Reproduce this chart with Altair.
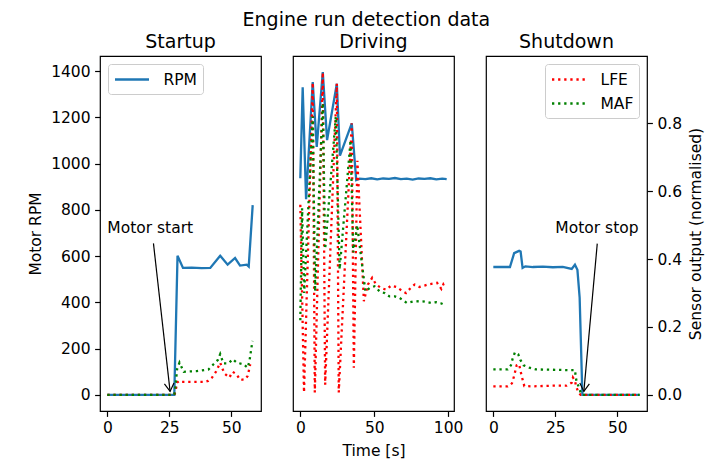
import altair as alt
import pandas as pd

FONT = "DejaVu Sans"
BLUE = "#1f77b4"
RED = "#ff0000"
GREEN = "#008000"
DASH = [2.3, 3.8]
LW = 2.3
FS = 15.5
TFS = 19
RPM_DOM = [-69.8, 1465.8]
SEN_DOM = [-0.0476, 0.9986]
SHORT_DOM = [-2.95, 61.95]
LONG_DOM = [-4.95, 103.95]

# ---------------- Startup ----------------
st_rpm_t = [0, 27.0, 28.3, 30.5, 34, 38, 41.5, 45.5, 48.5, 51.5, 53.5, 56.2, 57.0, 58.6]
st_rpm = [0, 0, 602, 549, 550, 548, 549, 602, 563, 592, 559, 563, 555, 821]
st_lfe_t = [0, 27.0, 27.5, 28.1, 29.0, 30.0, 39.0, 40.6, 42.2, 43.8, 45.5, 46.5, 47.5,
            49.2, 50.5, 52.0, 53.6, 55.6, 56.6, 57.6]
st_lfe = [0, 0, 0.01, 0.036, 0.041, 0.038, 0.038, 0.041, 0.051, 0.068, 0.095, 0.075, 0.061,
          0.051, 0.068, 0.061, 0.044, 0.046, 0.056, 0.09]
st_maf_t = [0, 27.0, 27.5, 28.1, 29.1, 30.8, 36.0, 40.8, 42.8, 44.6, 45.5, 46.8, 48.9,
            50.5, 52.2, 54.9, 56.6, 57.3, 58.0, 58.5]
st_maf = [0, 0, 0.026, 0.075, 0.095, 0.068, 0.07, 0.075, 0.09, 0.103, 0.12, 0.093, 0.093,
          0.105, 0.095, 0.09, 0.08, 0.1, 0.134, 0.159]

# ---------------- Driving ----------------
dr_rpm_t = [0, 1.6, 3.9, 8.4, 11.1, 15.2, 18.1, 24.7, 26.8, 34.8, 37.8, 40, 44, 48, 52, 56,
            60, 64, 68, 72, 76, 80, 84, 88, 92, 96, 99]
dr_rpm = [937, 1331, 846, 1353, 1073, 1396, 1102, 1346, 1035, 1174, 929, 935, 933, 937, 932,
          936, 934, 938, 933, 935, 931, 936, 934, 937, 932, 935, 933]
dr_lfe_t = [0, 2.5, 8.4, 9.8, 15.2, 16.8, 24.7, 26.0, 34.8, 36.2, 38.6, 43.0, 45.7, 48.6,
            51.3, 54.7, 58.0, 61.5, 65.0, 69.4, 71.5, 74.0, 77.3, 80.5, 84.0, 87.0, 89.8,
            92.5, 95.4, 97.0, 99.0]
dr_lfe = [0.56, 0.007, 0.92, 0.007, 0.95, 0.03, 0.917, 0.007, 0.80, 0.08, 0.69, 0.276, 0.325,
          0.345, 0.325, 0.315, 0.31, 0.322, 0.318, 0.305, 0.30, 0.312, 0.325, 0.318, 0.322,
          0.326, 0.328, 0.33, 0.312, 0.328, 0.33]
dr_maf_t = [0, 1.2, 2.6, 8.4, 10.0, 15.2, 16.8, 24.0, 26.6, 34.0, 35.8, 38.5, 41.0, 44.0,
            47.0, 50.2, 53.6, 57.0, 60.3, 64.0, 67.0, 72.0, 76.0, 80.6, 84.0, 88.5, 92.0,
            95.0, 97.0]
dr_maf = [0.22, 0.55, 0.30, 0.82, 0.305, 0.86, 0.43, 0.82, 0.37, 0.75, 0.42, 0.50, 0.41,
          0.305, 0.315, 0.32, 0.305, 0.30, 0.29, 0.29, 0.286, 0.271, 0.275, 0.276, 0.275,
          0.271, 0.273, 0.27, 0.266]

# ---------------- Shutdown ----------------
sh_rpm_t = [0, 6.7, 8.4, 10.4, 11.0, 11.8, 12.9, 16, 20, 24, 28, 31.6, 32.9, 33.9, 34.8,
            35.9, 59]
sh_rpm = [553, 553, 613, 623, 620, 549, 556, 553, 555, 552, 554, 545, 563, 541, 420, 0, 0]
sh_lfe_t = [0, 5.8, 7.5, 8.4, 9.4, 10.4, 11.4, 12.5, 15.4, 24.0, 29.5, 31.6, 32.1, 32.9,
            33.5, 34.5, 35.2, 59]
sh_lfe = [0.025, 0.025, 0.034, 0.056, 0.087, 0.09, 0.056, 0.026, 0.025, 0.027, 0.027, 0.036,
          0.051, 0.041, 0.022, 0.005, 0, 0]
sh_maf_t = [0, 5.8, 7.1, 7.8, 8.7, 10.0, 10.9, 12.2, 14.5, 17.1, 23.8, 29.9, 32.9, 33.2,
            33.5, 34.3, 35.2, 36.0, 59]
sh_maf = [0.075, 0.075, 0.087, 0.107, 0.125, 0.12, 0.103, 0.087, 0.08, 0.075, 0.074, 0.073,
          0.073, 0.056, 0.041, 0.026, 0.007, 0, 0]

# annotations: label, text position, arrow tail, arrow tip, head angle
ann_start = dict(label="Motor start", tx=0.0, ty=722, x0=18.6, y0=655, x1=25.3, y1=15, ang=353.6)
ann_stop = dict(label="Motor stop", tx=25.0, ty=722, x0=41.9, y0=654, x1=36.5, y1=15, ang=5.2)

W, H = 161, 355
ARROW = "M-0.6,-1L0,0L0.6,-1"
LEG_LINE = "M-1,0L3,0"


def legend(orient, dash=None):
    kw = dict(orient=orient, title=None, offset=8, symbolType=LEG_LINE, symbolSize=289,
              symbolStrokeWidth=LW, labelOffset=30, rowPadding=5, padding=5.5,
              fillColor="white", strokeColor="#cccccc", cornerRadius=3,
              labelFontSize=FS, labelFont=FONT, labelColor="black")
    if dash:
        kw["symbolDash"] = dash
    return alt.Legend(**kw)


def panel(title, xdom, xticks, xtitle, rpm_t, rpm, lfe_t, lfe, maf_t, maf,
          left_axis=False, right_axis=False, rpm_legend=False, sen_legend=False, ann=None):
    xenc = alt.X("t:Q", scale=alt.Scale(domain=xdom, nice=False, zero=False),
                 axis=alt.Axis(values=xticks, title=xtitle, format="d"))
    rpm_axis = alt.Axis(values=[0, 200, 400, 600, 800, 1000, 1200, 1400], title="Motor RPM",
                        orient="left", format="d") if left_axis else None
    sen_axis = alt.Axis(values=[0, 0.2, 0.4, 0.6, 0.8], title="Sensor output (normalised)",
                        orient="right", format=".1f", titleAngle=270,
                        titleBaseline="top", titlePadding=7) if right_axis else None
    yr = lambda ax: alt.Y("v:Q", scale=alt.Scale(domain=RPM_DOM, nice=False, zero=False), axis=ax)
    ys = lambda ax: alt.Y("v:Q", scale=alt.Scale(domain=SEN_DOM, nice=False, zero=False), axis=ax)

    rdf = pd.DataFrame({"t": rpm_t, "v": rpm, "series": "RPM"})
    if rpm_legend:
        col = alt.Color("series:N", scale=alt.Scale(domain=["RPM"], range=[BLUE]),
                        legend=legend("top-left"))
    else:
        col = alt.value(BLUE)
    rpm_layer = alt.Chart(rdf).mark_line(strokeWidth=LW).encode(x=xenc, y=yr(rpm_axis), color=col)

    layers = [rpm_layer]
    ldf = pd.DataFrame({"t": lfe_t, "v": lfe, "series": "LFE"})
    mdf = pd.DataFrame({"t": maf_t, "v": maf, "series": "MAF"})
    if sen_legend:
        sdf = pd.concat([ldf, mdf], ignore_index=True)
        sl = alt.Chart(sdf).mark_line(strokeWidth=LW, strokeDash=DASH).encode(
            x=xenc, y=ys(sen_axis),
            color=alt.Color("series:N", scale=alt.Scale(domain=["LFE", "MAF"], range=[RED, GREEN]),
                            legend=legend("top-right", DASH)),
            detail="series:N")
        layers.append(sl)
    else:
        layers.append(alt.Chart(ldf).mark_line(strokeWidth=LW, strokeDash=DASH, color=RED)
                      .encode(x=xenc, y=ys(sen_axis)))
        layers.append(alt.Chart(mdf).mark_line(strokeWidth=LW, strokeDash=DASH, color=GREEN)
                      .encode(x=xenc, y=ys(None)))

    if ann is not None:
        tdf = pd.DataFrame({"t": [ann["tx"]], "v": [ann["ty"]], "label": [ann["label"]]})
        layers.append(alt.Chart(tdf).mark_text(align="left", baseline="middle", font=FONT,
                                                fontSize=FS, color="black")
                      .encode(x=xenc, y=yr(None), text="label:N"))
        adf = pd.DataFrame({"t": [ann["x0"]], "v": [ann["y0"]], "t2": [ann["x1"]], "v2": [ann["y1"]]})
        layers.append(alt.Chart(adf).mark_rule(color="black", strokeWidth=1.2)
                      .encode(x=xenc, y=yr(None), x2="t2:Q", y2="v2:Q"))
        hdf = pd.DataFrame({"t": [ann["x1"]], "v": [ann["y1"]]})
        layers.append(alt.Chart(hdf).mark_point(shape=ARROW, size=256, filled=False,
                                                 color="black", strokeWidth=1.2,
                                                 angle=ann["ang"], opacity=1)
                      .encode(x=xenc, y=yr(None)))

    return alt.layer(*layers).resolve_scale(y="independent").properties(
        width=W, height=H, title=alt.TitleParams(title, fontSize=TFS, font=FONT,
                                                 fontWeight="normal", color="black", offset=4))


p1 = panel("Startup", SHORT_DOM, [0, 25, 50], None, st_rpm_t, st_rpm, st_lfe_t, st_lfe,
           st_maf_t, st_maf, left_axis=True, rpm_legend=True, ann=ann_start)
p2 = panel("Driving", LONG_DOM, [0, 50, 100], "Time [s]", dr_rpm_t, dr_rpm, dr_lfe_t, dr_lfe,
           dr_maf_t, dr_maf)
p3 = panel("Shutdown", SHORT_DOM, [0, 25, 50], None, sh_rpm_t, sh_rpm, sh_lfe_t, sh_lfe,
           sh_maf_t, sh_maf, right_axis=True, sen_legend=True, ann=ann_stop)

chart = alt.hconcat(p1, p2, p3, spacing=32, bounds="flush",
                    title=alt.TitleParams("Engine run detection data", fontSize=TFS, font=FONT,
                                          fontWeight="normal", color="black", anchor="middle",
                                          offset=2)
                    ).resolve_scale(color="independent").configure(
    padding={"left": 20, "top": 3, "right": 5, "bottom": 5},
    font=FONT,
).configure_view(stroke="black", strokeWidth=1.2).configure_axis(
    domain=False, grid=False, tickColor="black", tickSize=5.4, tickWidth=1.2,
    labelFont=FONT, labelFontSize=FS, labelColor="black", labelPadding=4.5,
    titleFont=FONT, titleFontSize=FS, titleFontWeight="normal", titleColor="black",
    titlePadding=7,
)

chart.save("out.html", embed_options={"renderer": "svg", "actions": False})
